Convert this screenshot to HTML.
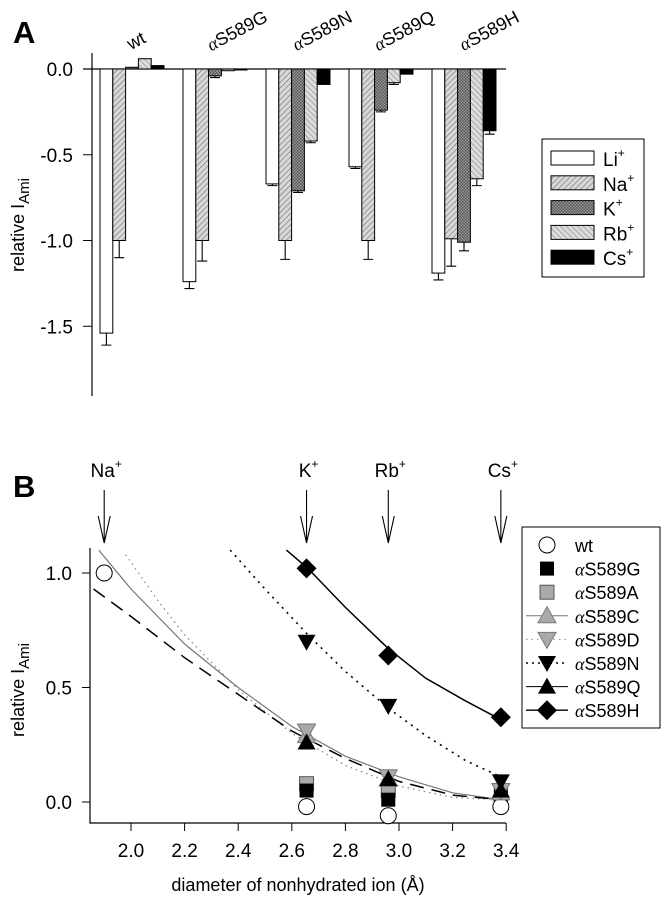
<!DOCTYPE html>
<html><head><meta charset="utf-8"><style>
html,body{margin:0;padding:0;background:#fff;}
svg{display:block;font-family:"Liberation Sans",sans-serif;}
</style></head><body>
<svg id="fig" width="666" height="900" viewBox="0 0 666 900">
<defs>
<pattern id="hNa" width="4" height="4" patternUnits="userSpaceOnUse" patternTransform="rotate(45)"><rect width="4" height="4" fill="#d8d8d8"/><line x1="0" y1="0" x2="0" y2="4" stroke="#777" stroke-width="1.3"/></pattern>
<pattern id="hK" width="3" height="3" patternUnits="userSpaceOnUse"><rect width="3" height="3" fill="#999"/><rect width="1.5" height="1.5" fill="#555"/><rect x="1.5" y="1.5" width="1.5" height="1.5" fill="#555"/></pattern>
<pattern id="hRb" width="4" height="4" patternUnits="userSpaceOnUse" patternTransform="rotate(-45)"><rect width="4" height="4" fill="#dcdcdc"/><line x1="0" y1="0" x2="0" y2="4" stroke="#888" stroke-width="1.2"/></pattern>
</defs>
<g id="panelA"></g>
<g id="panelB"></g>
</svg>
<script>
// ---------- Panel A data ----------
const groupsA = ["wt","\u03b1S589G","\u03b1S589N","\u03b1S589Q","\u03b1S589H"];
const ionsA = ["Li","Na","K","Rb","Cs"];
const liVals = [-1.54,-1.24,-0.67,-0.57,-1.19];
const naVals = [-1.0,-1.0,-1.0,-1.0,-0.99];
const kVals  = [0.01,-0.04,-0.71,-0.24,-1.01];
const rbVals = [0.06,-0.01,-0.42,-0.08,-0.64];
const csVals = [0.02,0.0,-0.09,-0.03,-0.36];
const liErr = [0.07,0.04,0.01,0.01,0.04];
const naErr = [0.10,0.12,0.11,0.11,0.16];
const kErr  = [0,0.01,0.01,0.01,0.05];
const rbErr = [0,0,0.01,0.01,0.04];
const csErr = [0,0,0,0,0.02];
const yTicksA = [0.0,-0.5,-1.0,-1.5];
const yTickLabelsA = ["0.0","-0.5","-1.0","-1.5"];

// ---------- Panel B data ----------
const xIons = [1.90,2.655,2.96,3.38];
const ionLabels = ["Na","K","Rb","Cs"];
const wtY = [1.0,-0.02,-0.06,-0.02];
const gX = [2.655,2.96,3.38]; const gY = [0.05,0.01,0.03];
const aX = [2.655,2.96]; const aY = [0.08,0.05];
const cX = [2.655,2.96,3.38]; const cY = [0.29,0.10,0.04];
const dX = [2.655,2.96,3.38]; const dY = [0.31,0.11,0.05];
const nX = [2.655,2.96,3.38]; const nY = [0.70,0.42,0.09];
const qX = [2.655,2.96,3.38]; const qY = [0.26,0.10,0.05];
const hX = [2.655,2.96,3.38]; const hY = [1.02,0.64,0.37];
const fitGrayX = [1.88,2.0,2.2,2.4,2.6,2.8,3.0,3.2,3.38];
const fitGrayY = [1.10,0.93,0.69,0.50,0.33,0.20,0.11,0.04,0.01];
const fitDotGX = [1.98,2.1,2.2,2.4,2.6,2.8,3.0,3.2,3.38];
const fitDotGY = [1.08,0.88,0.73,0.49,0.30,0.16,0.07,0.02,0.01];
const fitDashX = [1.86,2.0,2.2,2.4,2.6,2.8,3.0,3.2,3.38];
const fitDashY = [0.93,0.81,0.63,0.47,0.31,0.19,0.09,0.03,0.01];
const fitNX = [2.37,2.5,2.66,2.8,2.96,3.1,3.25,3.38];
const fitNY = [1.10,0.93,0.73,0.57,0.41,0.29,0.18,0.11];
const fitHX = [2.58,2.66,2.8,2.96,3.1,3.25,3.38];
const fitHY = [1.10,1.02,0.85,0.67,0.54,0.44,0.36];
const xTicksB = [2.0,2.2,2.4,2.6,2.8,3.0,3.2,3.4];
const xTickLabelsB = ["2.0","2.2","2.4","2.6","2.8","3.0","3.2","3.4"];
const yTicksB = [0.0,0.5,1.0];
const yTickLabelsB = ["0.0","0.5","1.0"];

const NS="http://www.w3.org/2000/svg";
function mk(parent,tag,attrs,text){const e=document.createElementNS(NS,tag);for(const k in attrs)e.setAttribute(k,attrs[k]);if(text!==undefined)e.textContent=text;parent.appendChild(e);return e;}
function alphaHTML(s){return s.replace('\u03b1','<tspan font-family="Liberation Serif, serif" font-style="italic">\u03b1</tspan>');}

// ----- Panel A -----
const A=document.getElementById('panelA');
const yA=v=>69-v*171.5;
const groupX=i=>100+i*83;
const barW=12.8;
let t;
t=mk(A,'text',{x:13,y:43,'font-size':31,'font-weight':'bold'},'A');


let ax=mk(A,'line',{x1:92,y1:53,x2:92,y2:396,stroke:'#000','stroke-width':1.2});


let bl=mk(A,'line',{x1:83,y1:yA(0),x2:506,y2:yA(0),stroke:'#000','stroke-width':1.2});


yTicksA.forEach((v,i)=>{
  let tk=mk(A,'line',{x1:83,y1:yA(v),x2:92,y2:yA(v),stroke:'#000'});
  
  
  let tl=mk(A,'text',{x:73,y:yA(v)+7,'font-size':19,'text-anchor':'end'},yTickLabelsA[i]);
  
  
});
let yt=mk(A,'text',{transform:'translate(24,225) rotate(-90)','font-size':18,'text-anchor':'middle'});


yt.innerHTML='relative I<tspan dy="5" font-size="15">Ami</tspan>';
const series=[liVals,naVals,kVals,rbVals,csVals];
const errs=[liErr,naErr,kErr,rbErr,csErr];
const fills=['#fff','url(#hNa)','url(#hK)','url(#hRb)','#000'];
groupsA.forEach((g,gi)=>{
  const cx=[139,240,325,407,492][gi];
  let gl=mk(A,'text',{transform:`translate(${cx},${gi==0?46:36}) rotate(-28)`,'font-size':18,'text-anchor':'middle'});
  gl.innerHTML=alphaHTML(g);
  
  
  series.forEach((s,si)=>{
    const v=s[gi];const x=groupX(gi)+si*barW;
    const y0=yA(0),y1=yA(v);
    let r=mk(A,'rect',{x:x,y:Math.min(y0,y1),width:barW,height:Math.max(1,Math.abs(y1-y0)),fill:fills[si],stroke:'#000','stroke-width':1});
    
    
    const e=errs[si][gi];
    if(e>0){
      const ye=yA(v-e);const xc=x+barW/2;
      let el=mk(A,'path',{d:`M${xc},${y1} V${ye} M${xc-5},${ye} H${xc+5}`,stroke:'#000','stroke-width':1.1,fill:'none'});
      
      
    }
  });
});
// legend A
let lgA=mk(A,'g',{});


mk(lgA,'rect',{x:542,y:139,width:102,height:138,fill:'#fff',stroke:'#000','stroke-width':1});
ionsA.forEach((ion,i)=>{
  const y=158+i*24.8;
  let sw=mk(lgA,'rect',{x:551,y:y-7,width:43,height:14,fill:fills[i],stroke:'#000'});
  
  
  let lt=mk(lgA,'text',{x:603,y:y+8,'font-size':19});
  
  
  lt.innerHTML=ion+'<tspan dy="-9" font-size="12">+</tspan>';
});

// ----- Panel B -----
const B=document.getElementById('panelB');
const xB=v=>131+(v-2.0)*268;
const yB=v=>802-v*229;
t=mk(B,'text',{x:13,y:497,'font-size':31,'font-weight':'bold'},'B');


let axb=mk(B,'path',{d:'M90,548 V823 H506',stroke:'#000','stroke-width':1.2,fill:'none'});


xTicksB.forEach((v,i)=>{
  let tk=mk(B,'line',{x1:xB(v),y1:823,x2:xB(v),y2:831,stroke:'#000'});
  
  
  let tl=mk(B,'text',{x:xB(v),y:857,'font-size':19,'text-anchor':'middle'},xTickLabelsB[i]);
  
  
});
yTicksB.forEach((v,i)=>{
  let tk=mk(B,'line',{x1:82,y1:yB(v),x2:90,y2:yB(v),stroke:'#000'});
  
  
  let tl=mk(B,'text',{x:72,y:yB(v)+7,'font-size':19,'text-anchor':'end'},yTickLabelsB[i]);
  
  
});
let xtb=mk(B,'text',{x:298,y:891,'font-size':18,'text-anchor':'middle'},'diameter of nonhydrated ion (\u00c5)');


let ytb=mk(B,'text',{transform:'translate(24,690) rotate(-90)','font-size':18,'text-anchor':'middle'});


ytb.innerHTML='relative I<tspan dy="5" font-size="15">Ami</tspan>';
// arrows
xIons.forEach((v,i)=>{
  const x=xB(v);
  let ar=mk(B,'path',{d:`M${x},490 V543 M${x-6},516 L${x},543 L${x+6},516`,stroke:'#000','stroke-width':1.1,fill:'none'});
  
  
  let al=mk(B,'text',{x:x+2,y:477,'font-size':19,'text-anchor':'middle'});
  
  
  al.innerHTML=ionLabels[i]+'<tspan dy="-9" font-size="12">+</tspan>';
});
function curve(xs,ys,attrs,name){
  const d=xs.map((x,i)=>(i?'L':'M')+xB(x).toFixed(1)+','+yB(ys[i]).toFixed(1)).join(' ');
  const p=mk(B,'path',Object.assign({d:d,fill:'none'},attrs));
  
  
}
curve(fitGrayX,fitGrayY,{stroke:'#777','stroke-width':1.2},'fit-curve-gray');
curve(fitDotGX,fitDotGY,{stroke:'#888','stroke-width':1.3,'stroke-dasharray':'1.5,4'},'fit-curve-dotted-gray');
curve(fitDashX,fitDashY,{stroke:'#000','stroke-width':1.5,'stroke-dasharray':'14,8'},'fit-curve-dashed');
curve(fitNX,fitNY,{stroke:'#000','stroke-width':1.6,'stroke-dasharray':'2,5'},'fit-curve-n');
curve(fitHX,fitHY,{stroke:'#000','stroke-width':1.5},'fit-curve-h');
function marker(parent,type,x,y,name){
  let e;
  if(type=='circle') e=mk(parent,'circle',{cx:x,cy:y,r:8,fill:'#fff',stroke:'#000','stroke-width':1});
  else if(type=='sqB') e=mk(parent,'rect',{x:x-7,y:y-7,width:14,height:14,fill:'#000'});
  else if(type=='sqG') e=mk(parent,'rect',{x:x-7,y:y-7,width:14,height:14,fill:'#aaa',stroke:'#555'});
  else if(type=='triUpG') e=mk(parent,'path',{d:`M${x},${y-9} L${x+9},${y+7} L${x-9},${y+7}Z`,fill:'#aaa',stroke:'#777'});
  else if(type=='triDnG') e=mk(parent,'path',{d:`M${x},${y+9} L${x+9},${y-7} L${x-9},${y-7}Z`,fill:'#aaa',stroke:'#777'});
  else if(type=='triDnB') e=mk(parent,'path',{d:`M${x},${y+9} L${x+9},${y-7} L${x-9},${y-7}Z`,fill:'#000'});
  else if(type=='triUpB') e=mk(parent,'path',{d:`M${x},${y-9} L${x+9},${y+7} L${x-9},${y+7}Z`,fill:'#000'});
  else if(type=='dia') e=mk(parent,'path',{d:`M${x},${y-10} L${x+10},${y} L${x},${y+10} L${x-10},${y}Z`,fill:'#000'});
  
  
}
const seriesB=[
 ['sqG',aX,aY,'point-s589a'],['sqB',gX,gY,'point-s589g'],
 ['circle',xIons,wtY,'point-wt'],
 ['triUpG',cX,cY,'point-s589c'],['triDnG',dX,dY,'point-s589d'],
 ['triDnB',nX,nY,'point-s589n'],['triUpB',qX,qY,'point-s589q'],['dia',hX,hY,'point-s589h']];
seriesB.forEach(s=>s[1].forEach((x,i)=>marker(B,s[0],xB(x),yB(s[2][i]),s[3])));
// legend B
let lgB=mk(B,'g',{});


mk(lgB,'rect',{x:522,y:527,width:138,height:201,fill:'#fff',stroke:'#000','stroke-width':1});
const legB=[['circle','wt',null],['sqB','\u03b1S589G',null],['sqG','\u03b1S589A',null],
 ['triUpG','\u03b1S589C',{stroke:'#777'}],['triDnG','\u03b1S589D',{stroke:'#888','stroke-dasharray':'1.5,4'}],
 ['triDnB','\u03b1S589N',{stroke:'#000','stroke-dasharray':'2,4','stroke-width':1.5}],['triUpB','\u03b1S589Q',{stroke:'#000'}],['dia','\u03b1S589H',{stroke:'#000','stroke-width':1.3}]];
legB.forEach((l,i)=>{
  const y=545+i*23.6;
  if(l[2]){let ln=mk(lgB,'line',Object.assign({x1:526,y1:y,x2:568,y2:y},l[2]));
    
    }
  marker(lgB,l[0],547,y,'legend-marker');
  let lt=mk(lgB,'text',{x:575,y:y+7,'font-size':18});
  lt.innerHTML=alphaHTML(l[1]);
  
  
});
</script>
</body></html>
